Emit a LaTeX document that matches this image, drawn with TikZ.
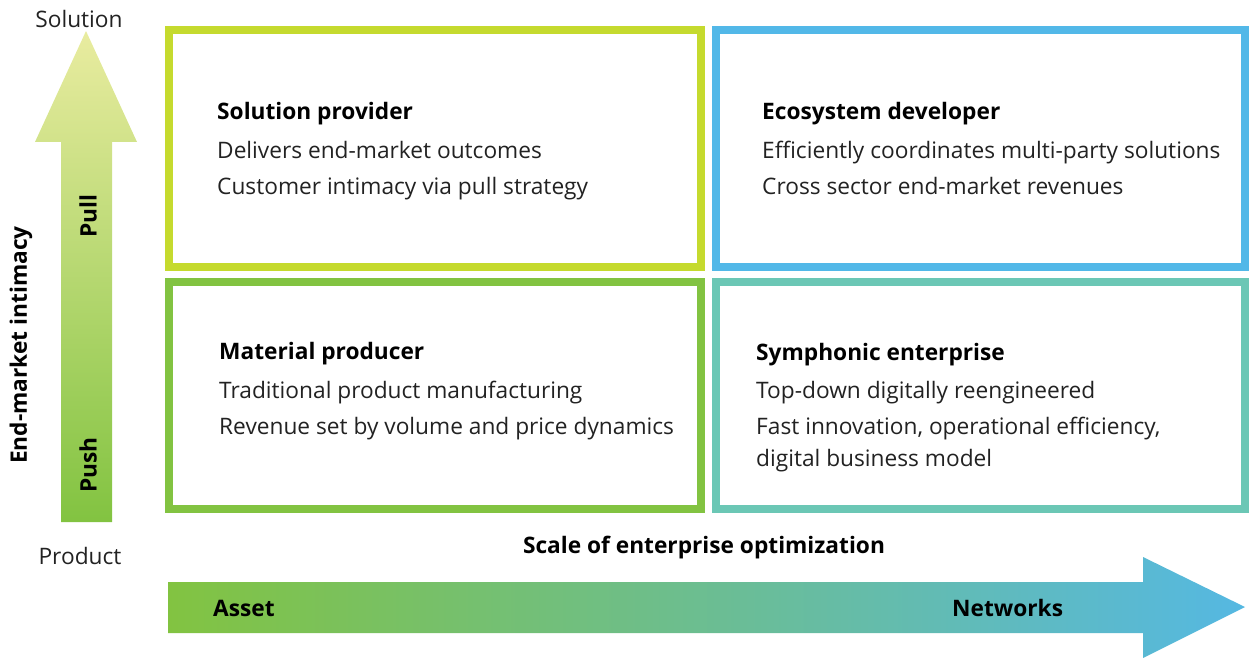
\documentclass[tikz,border=0pt]{standalone}
\usepackage{fontspec}
\setmainfont{Open Sans}
\definecolor{limeC}{HTML}{C5DA2E}
\definecolor{blueC}{HTML}{52B8E8}
\definecolor{greenC}{HTML}{82C341}
\definecolor{tealC}{HTML}{6BC7B5}
\definecolor{txt}{HTML}{222222}
\definecolor{vtop}{HTML}{E9ECA0}
\definecolor{vbot}{HTML}{82C341}
\definecolor{hmid}{HTML}{79C57E}
\definecolor{hright}{HTML}{55B8E2}
\tikzset{
  quad/.style={line width=8pt},
  ttl/.style={anchor=base west, inner sep=0pt, font=\fontsize{22.7}{26}\selectfont\bfseries, text=black},
  body/.style={anchor=base west, inner sep=0pt, font=\fontsize{22.7}{26}\selectfont, text=txt},
  axlab/.style={inner sep=0pt, font=\fontsize{22.7}{26}\selectfont, text=txt},
  boldlab/.style={inner sep=0pt, font=\fontsize{22.7}{26}\selectfont\bfseries, text=black},
}
\begin{document}
\begin{tikzpicture}[x=1pt,y=-1pt]
\useasboundingbox (0,0) rectangle (1250,658);
% vertical arrow
\shade[top color=vtop, bottom color=vbot]
  (61,522) -- (112,522) -- (112,142) -- (137,142) -- (86,31) -- (35,142) -- (61,142) -- cycle;
% horizontal arrow
\shade[left color=greenC, middle color=hmid, right color=hright]
  (168,582) -- (1143,582) -- (1143,557) -- (1245,607) -- (1143,658) -- (1143,633) -- (168,633) -- cycle;
% boxes
\draw[quad, limeC] (169,30) rectangle (701,267);
\draw[quad, blueC] (716,30) rectangle (1245,267);
\draw[quad, greenC] (169,282) rectangle (701,509);
\draw[quad, tealC] (716,282) rectangle (1245,509);
% axis labels
\node[axlab] (sol) at (79,19) {Solution};
\node[axlab] (prod) at (80,556) {Product};
\node[boldlab, rotate=90] (emi) at (21,345) {End-market intimacy};
\node[boldlab, rotate=90] (pull) at (88,216) {Pull};
\node[boldlab, rotate=90] (push) at (88,465) {Push};
\node[boldlab] (scale) at (704,548) {Scale of enterprise optimization};
\node[boldlab, anchor=west] (asset) at (213,608) {Asset};
\node[boldlab, anchor=west] (net) at (952,608) {Networks};
% TL
\node[ttl] (t1) at (217,120) {Solution provider};
\node[body] (t1a) at (217,158) {Delivers end-market outcomes};
\node[body] (t1b) at (217,194) {Customer intimacy via pull strategy};
% TR
\node[ttl] (t2) at (762,120) {Ecosystem developer};
\node[body] (t2a) at (762,158) {Efficiently coordinates multi-party solutions};
\node[body] (t2b) at (762,194) {Cross sector end-market revenues};
% BL
\node[ttl] (t3) at (219,359) {Material producer};
\node[body] (t3a) at (219,398) {Traditional product manufacturing};
\node[body] (t3b) at (219,434) {Revenue set by volume and price dynamics};
% BR
\node[ttl] (t4) at (756,360) {Symphonic enterprise};
\node[body] (t4a) at (756,398) {Top-down digitally reengineered};
\node[body] (t4b) at (756,434) {Fast innovation, operational efficiency,};
\node[body] (t4c) at (756,466) {digital business model};
\end{tikzpicture}
\end{document}
